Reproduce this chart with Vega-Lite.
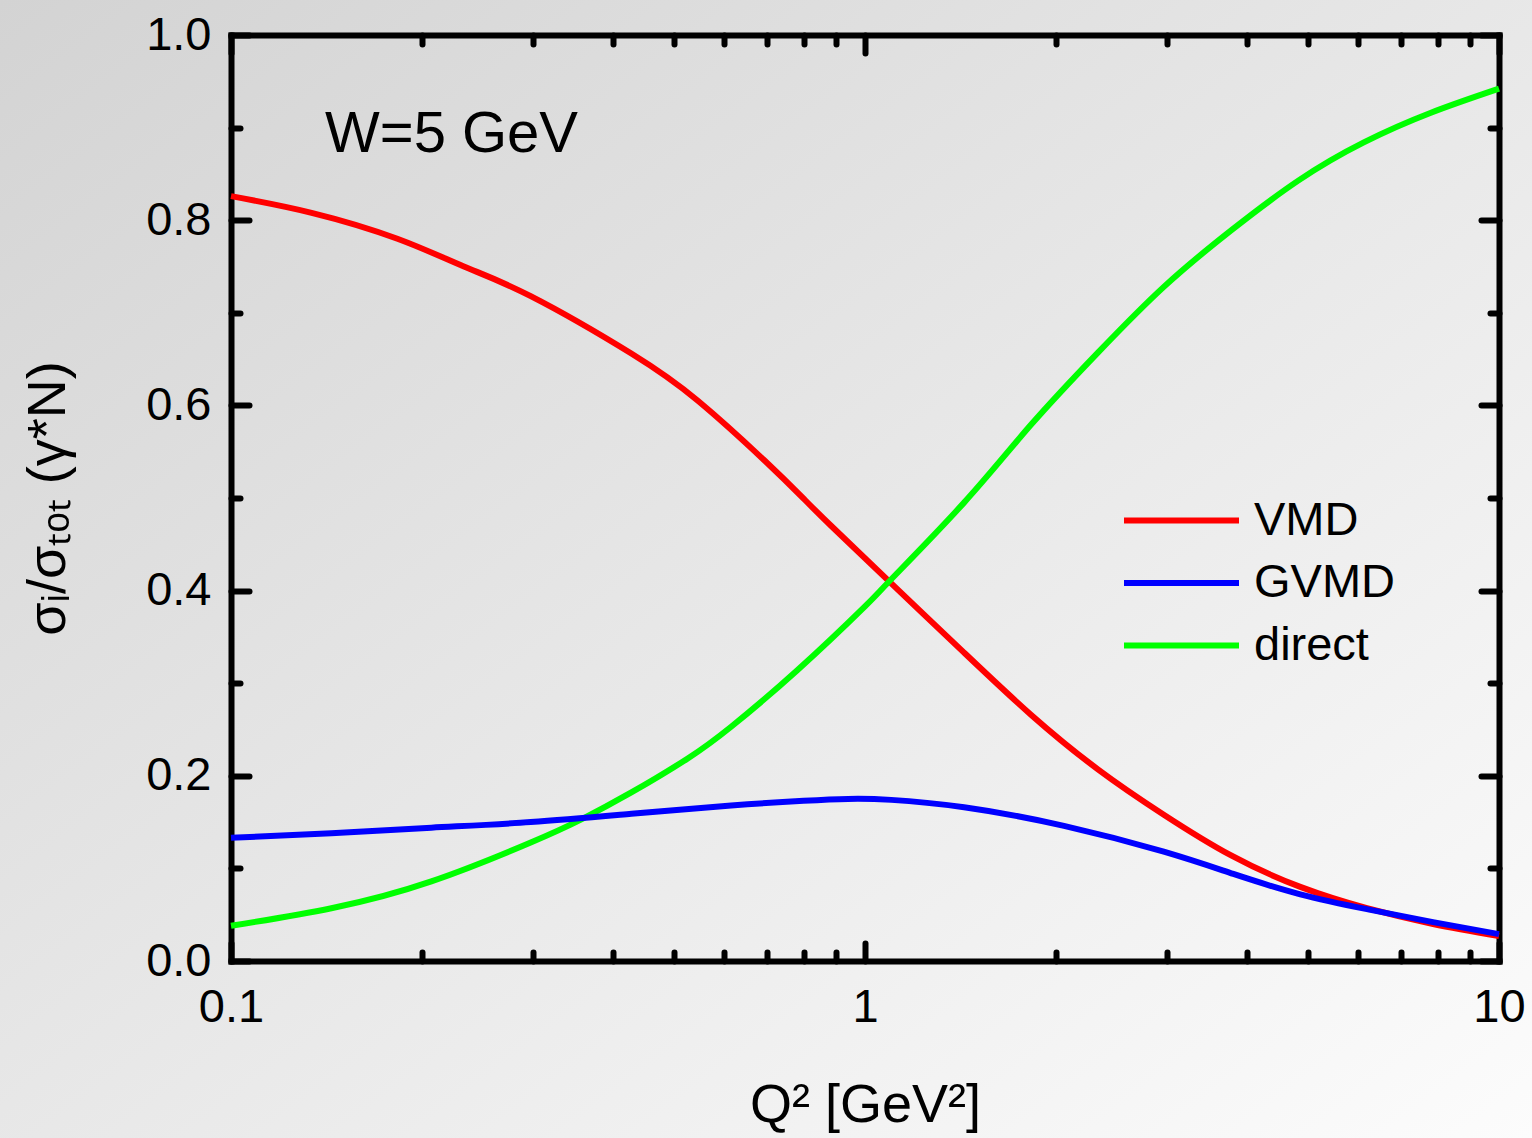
{
  "$schema": "https://vega.github.io/schema/vega-lite/v6.json",
  "width": 1532,
  "height": 1138,
  "autosize": {"type": "none"},
  "padding": 0,
  "background": "#e6e6e6",
  "config": {
    "view": {"stroke": null, "fill": {"gradient": "linear", "x1": 0, "y1": 0, "x2": 1, "y2": 1, "stops": [{"offset": 0, "color": "#d3d3d3"}, {"offset": 1, "color": "#fcfcfc"}]}},
    "font": "Liberation Sans",
    "axis": {"domainColor": "black", "tickColor": "black", "labelColor": "black", "titleColor": "black", "labelFont": "Liberation Sans", "titleFont": "Liberation Sans", "titleFontWeight": "normal", "grid": false, "domainWidth": 6, "tickWidth": 6, "tickCap": "round", "domainCap": "square"}
  },
  "datasets": {
    "curves": [
      {"series": "VMD", "q2": 0.1, "frac": 0.826},
      {"series": "VMD", "q2": 0.134, "frac": 0.808},
      {"series": "VMD", "q2": 0.183, "frac": 0.780},
      {"series": "VMD", "q2": 0.233, "frac": 0.750},
      {"series": "VMD", "q2": 0.297, "frac": 0.718},
      {"series": "VMD", "q2": 0.428, "frac": 0.656},
      {"series": "VMD", "q2": 0.545, "frac": 0.605},
      {"series": "VMD", "q2": 0.693, "frac": 0.541},
      {"series": "VMD", "q2": 0.801, "frac": 0.499},
      {"series": "VMD", "q2": 0.884, "frac": 0.470},
      {"series": "VMD", "q2": 1.099, "frac": 0.408},
      {"series": "VMD", "q2": 1.433, "frac": 0.333},
      {"series": "VMD", "q2": 1.827, "frac": 0.266},
      {"series": "VMD", "q2": 2.33, "frac": 0.207},
      {"series": "VMD", "q2": 2.96, "frac": 0.158},
      {"series": "VMD", "q2": 3.78, "frac": 0.114},
      {"series": "VMD", "q2": 4.86, "frac": 0.080},
      {"series": "VMD", "q2": 6.19, "frac": 0.057},
      {"series": "VMD", "q2": 7.87, "frac": 0.040},
      {"series": "VMD", "q2": 10, "frac": 0.027},
      {"series": "direct", "q2": 0.1, "frac": 0.038},
      {"series": "direct", "q2": 0.144, "frac": 0.057},
      {"series": "direct", "q2": 0.207, "frac": 0.086},
      {"series": "direct", "q2": 0.297, "frac": 0.128},
      {"series": "direct", "q2": 0.357, "frac": 0.153},
      {"series": "direct", "q2": 0.428, "frac": 0.182},
      {"series": "direct", "q2": 0.526, "frac": 0.219},
      {"series": "direct", "q2": 0.615, "frac": 0.253},
      {"series": "direct", "q2": 0.782, "frac": 0.314},
      {"series": "direct", "q2": 1.0, "frac": 0.383},
      {"series": "direct", "q2": 1.099, "frac": 0.412},
      {"series": "direct", "q2": 1.433, "frac": 0.495},
      {"series": "direct", "q2": 1.827, "frac": 0.579},
      {"series": "direct", "q2": 2.33, "frac": 0.657},
      {"series": "direct", "q2": 2.96, "frac": 0.728},
      {"series": "direct", "q2": 3.78, "frac": 0.789},
      {"series": "direct", "q2": 4.83, "frac": 0.843},
      {"series": "direct", "q2": 6.12, "frac": 0.884},
      {"series": "direct", "q2": 7.81, "frac": 0.916},
      {"series": "direct", "q2": 10, "frac": 0.942},
      {"series": "GVMD", "q2": 0.1, "frac": 0.133},
      {"series": "GVMD", "q2": 0.144, "frac": 0.138},
      {"series": "GVMD", "q2": 0.207, "frac": 0.144},
      {"series": "GVMD", "q2": 0.297, "frac": 0.150},
      {"series": "GVMD", "q2": 0.428, "frac": 0.159},
      {"series": "GVMD", "q2": 0.615, "frac": 0.168},
      {"series": "GVMD", "q2": 0.80, "frac": 0.173},
      {"series": "GVMD", "q2": 0.94, "frac": 0.175},
      {"series": "GVMD", "q2": 1.1, "frac": 0.174},
      {"series": "GVMD", "q2": 1.433, "frac": 0.166},
      {"series": "GVMD", "q2": 2.06, "frac": 0.146},
      {"series": "GVMD", "q2": 2.96, "frac": 0.118},
      {"series": "GVMD", "q2": 3.81, "frac": 0.094},
      {"series": "GVMD", "q2": 4.86, "frac": 0.072},
      {"series": "GVMD", "q2": 6.19, "frac": 0.056},
      {"series": "GVMD", "q2": 7.87, "frac": 0.042},
      {"series": "GVMD", "q2": 10, "frac": 0.029}
    ]
  },
  "data": {"name": "curves"},
  "resolve": {"axis": {"x": "independent", "y": "independent"}},
  "layer": [
    {
      "mark": {"type": "line", "strokeWidth": 6, "interpolate": "natural"},
      "encoding": {
        "x": {"field": "q2", "type": "quantitative", "scale": {"type": "log", "domain": [0.1, 10], "range": [231, 1499], "nice": false},
          "axis": {"orient": "bottom", "offset": -177, "values": [0.1, 1, 10], "format": "~g", "ticks": false, "labelFontSize": 47, "labelPadding": 23, "labelFlush": false, "labelOverlap": false, "title": "Q² [GeV²]", "titleFontSize": 54, "titlePadding": 48}},
        "y": {"field": "frac", "type": "quantitative", "scale": {"domain": [0, 1], "range": [961, 35], "nice": false, "zero": false},
          "axis": {"orient": "left", "offset": -231, "values": [0, 0.2, 0.4, 0.6, 0.8, 1], "format": ".1f", "ticks": false, "labelFontSize": 47, "labelPadding": 20, "labelFlush": false, "labelOverlap": false, "title": "σᵢ/σₜₒₜ (γ*N)", "titleFontSize": 54, "titlePadding": 70}},
        "color": {"field": "series", "type": "nominal", "scale": {"domain": ["VMD", "GVMD", "direct"], "range": ["#ff0000", "#0000ff", "#00ff00"]},
          "legend": {"orient": "none", "legendX": 1112, "legendY": 497, "title": null, "symbolType": "M-1,0H9", "symbolSize": 529, "symbolStrokeWidth": 6, "labelFontSize": 47, "labelFont": "Liberation Sans", "labelColor": "black", "labelOffset": 95, "rowPadding": 14.5, "padding": 0}}
      }
    },
    {
      "mark": {"type": "point", "opacity": 0},
      "encoding": {
        "x": {"field": "q2", "type": "quantitative", "scale": {"type": "log", "domain": [0.1, 10], "range": [231, 1499], "nice": false},
          "axis": {"orient": "bottom", "offset": -177, "values": [0.1, 1, 10], "tickSize": -18, "labels": false, "domain": false, "title": null}},
        "y": {"field": "frac", "type": "quantitative", "scale": {"domain": [0, 1], "range": [961, 35], "nice": false, "zero": false},
          "axis": {"orient": "left", "offset": -231, "values": [0, 0.2, 0.4, 0.6, 0.8, 1], "tickSize": -18, "labels": false, "domain": false, "title": null}}
      }
    },
    {
      "mark": {"type": "point", "opacity": 0},
      "encoding": {
        "x": {"field": "q2", "type": "quantitative", "scale": {"type": "log", "domain": [0.1, 10], "range": [231, 1499], "nice": false},
          "axis": {"orient": "bottom", "offset": -177, "values": [0.2, 0.3, 0.4, 0.5, 0.6, 0.7, 0.8, 0.9, 2, 3, 4, 5, 6, 7, 8, 9], "tickSize": -9, "labels": false, "domain": false, "title": null}},
        "y": {"field": "frac", "type": "quantitative", "scale": {"domain": [0, 1], "range": [961, 35], "nice": false, "zero": false},
          "axis": {"orient": "left", "offset": -231, "values": [0.1, 0.3, 0.5, 0.7, 0.9], "tickSize": -9, "labels": false, "domain": false, "title": null}}
      }
    },
    {
      "mark": {"type": "point", "opacity": 0},
      "encoding": {
        "x": {"field": "q2", "type": "quantitative", "scale": {"type": "log", "domain": [0.1, 10], "range": [231, 1499], "nice": false},
          "axis": {"orient": "top", "offset": -35, "values": [0.1, 1, 10], "tickSize": -18, "labels": false, "domain": true, "title": null}},
        "y": {"field": "frac", "type": "quantitative", "scale": {"domain": [0, 1], "range": [961, 35], "nice": false, "zero": false},
          "axis": {"orient": "right", "offset": -33, "values": [0, 0.2, 0.4, 0.6, 0.8, 1], "tickSize": -18, "labels": false, "domain": true, "title": null}}
      }
    },
    {
      "mark": {"type": "point", "opacity": 0},
      "encoding": {
        "x": {"field": "q2", "type": "quantitative", "scale": {"type": "log", "domain": [0.1, 10], "range": [231, 1499], "nice": false},
          "axis": {"orient": "top", "offset": -35, "values": [0.2, 0.3, 0.4, 0.5, 0.6, 0.7, 0.8, 0.9, 2, 3, 4, 5, 6, 7, 8, 9], "tickSize": -9, "labels": false, "domain": false, "title": null}},
        "y": {"field": "frac", "type": "quantitative", "scale": {"domain": [0, 1], "range": [961, 35], "nice": false, "zero": false},
          "axis": {"orient": "right", "offset": -33, "values": [0.1, 0.3, 0.5, 0.7, 0.9], "tickSize": -9, "labels": false, "domain": false, "title": null}}
      }
    },
    {
      "data": {"values": [{"q2": 0.1407, "frac": 0.874, "label": "W=5 GeV"}]},
      "mark": {"type": "text", "align": "left", "baseline": "alphabetic", "fontSize": 58, "font": "Liberation Sans", "color": "black"},
      "encoding": {
        "x": {"field": "q2", "type": "quantitative", "scale": {"type": "log", "domain": [0.1, 10], "range": [231, 1499], "nice": false}, "axis": null},
        "y": {"field": "frac", "type": "quantitative", "scale": {"domain": [0, 1], "range": [961, 35], "nice": false, "zero": false}, "axis": null},
        "text": {"field": "label"}
      }
    }
  ]
}
